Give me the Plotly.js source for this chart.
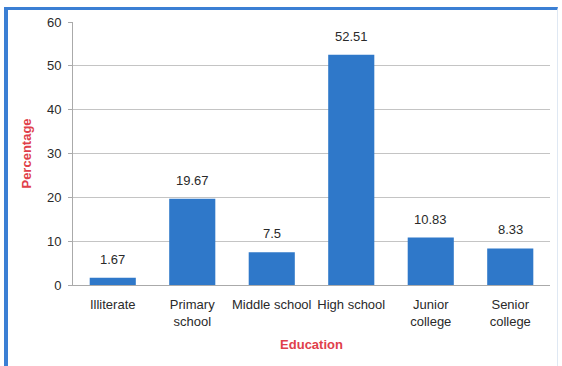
<!DOCTYPE html>
<html>
<head>
<meta charset="utf-8">
<script src="https://cdn.plot.ly/plotly-3.0.1.min.js"></script>
<style>
html,body{margin:0;padding:0;background:#fff;}
#wrap{position:relative;width:562px;height:366px;}
#chart{width:562px;height:366px;}
#border{position:absolute;left:4px;top:7px;width:554px;height:359px;border-left:4px solid #3b7fd4;border-top:3px solid #3b7fd4;border-right:1px solid #dfe8f3;pointer-events:none;box-sizing:border-box;}
</style>
</head>
<body>
<div id="wrap">
<div id="chart"></div>
<div id="border"></div>
</div>
<script>
const categories = ["Illiterate", "Primary<br>school", "Middle school", "High school", "Junior<br>college", "Senior<br>college"];
const values = [1.67, 19.67, 7.5, 52.51, 10.83, 8.33];
const valueLabels = ["1.67", "19.67", "7.5", "52.51", "10.83", "8.33"];
const yTicks = [0, 10, 20, 30, 40, 50, 60];

const FONT = 'Liberation Sans, Arial, sans-serif';

const trace = {
  type: 'bar',
  x: categories,
  y: values,
  marker: {color: '#2f78c9'},
  width: 0.58,
  hoverinfo: 'none'
};

const annotations = categories.map((c, i) => ({
  x: c, y: values[i], xref: 'x', yref: 'y',
  text: valueLabels[i], showarrow: false,
  yanchor: 'bottom', yshift: 9,
  font: {family: FONT, size: 13, color: '#2a2a2a'}
}));

const layout = {
  width: 562, height: 366,
  margin: {l: 73, r: 12, t: 22, b: 81},
  paper_bgcolor: '#fff', plot_bgcolor: '#fff',
  showlegend: false,
  font: {family: FONT, size: 13, color: '#2a2a2a'},
  annotations: annotations,
  xaxis: {
    title: {text: '<b>Education</b>', font: {color: '#e0404a', size: 13}, standoff: 12},
    showline: true, linecolor: '#aaa', linewidth: 1,
    ticks: '', ticklabelstandoff: 7,
    tickfont: {size: 13, color: '#2a2a2a'},
    fixedrange: true
  },
  yaxis: {
    title: {text: '<b>Percentage</b>', font: {color: '#e0404a', size: 13}, standoff: 12},
    range: [0, 60], tickvals: yTicks, ticktext: yTicks.map(String),
    showgrid: true, gridcolor: '#c4c4c4', gridwidth: 1,
    showline: true, linecolor: '#aaa', linewidth: 1,
    ticks: 'outside', ticklen: 4, tickcolor: '#aaa',
    ticklabelstandoff: 4,
    tickfont: {size: 13, color: '#2a2a2a'},
    zeroline: false, fixedrange: true
  }
};

Plotly.newPlot('chart', [trace], layout, {displayModeBar: false, staticPlot: true});
</script>
</body>
</html>
